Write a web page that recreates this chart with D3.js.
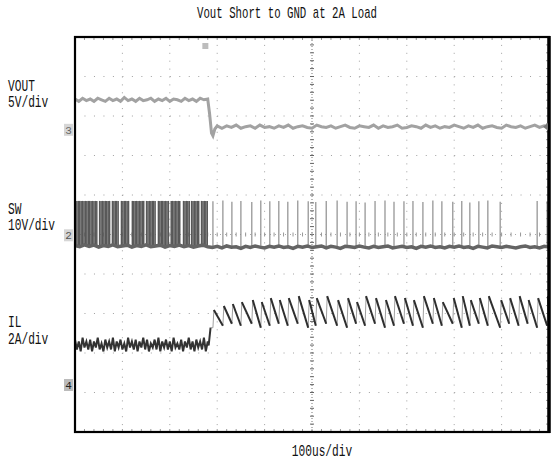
<!DOCTYPE html>
<html>
<head>
<meta charset="utf-8">
<script src="https://cdn.jsdelivr.net/npm/d3@7"></script>
<style>
  body { margin: 0; background: #fff; }
  text { font-family: "Liberation Mono", "DejaVu Sans Mono", monospace; fill: #111; }
</style>
</head>
<body>
<div id="scope"></div>
<script>
let chartTitle = "Vout Short to GND at 2A Load";
let timeLabel = "100us/div";
let channelNames = ["VOUT", "SW", "IL"];
let channelScales = ["5V/div", "10V/div", "2A/div"];

// VOUT (V): before the short, sampled every 8us from 0
let voutPre = [3.9,3.6,4.0,3.7,3.9,3.6,4.0,3.8,3.6,4.0,
               3.7,3.9,3.6,4.1,3.7,3.9,3.6,4.0,3.7,3.8,
               4.0,3.6,3.9,3.7,4.0,3.6,3.9,3.8,3.6,4.0,
               3.7,3.9,3.6,4.0,3.8,3.9];
let voutEdgeT = [284, 288, 291, 295, 300];
let voutEdgeV = [2.0, -0.4, -0.75, 0.1, 0.5];
// after the short, every 10us from 310
let voutPost = [0.2,0.5,0.3,0.6,0.2,0.4,0.5,0.2,0.6,0.3,
                0.4,0.2,0.5,0.3,0.6,0.2,0.4,0.5,0.3,0.2,
                0.6,0.4,0.3,0.5,0.2,0.4,0.6,0.3,0.2,0.5,
                0.4,0.3,0.6,0.2,0.5,0.3,0.4,0.6,0.2,0.3,
                0.5,0.4,0.2,0.6,0.3,0.5,0.2,0.4,0.3,0.6,
                0.4,0.2,0.5,0.3,0.6,0.2,0.4,0.5,0.3,0.2,
                0.6,0.4,0.3,0.5,0.2,0.4,0.6,0.3,0.5,0.4];

// SW (V): low level every 10us from 0 to 1000
let swBase = [-2.6,-2.9,-2.4,-2.8,-2.5,-3.0,-2.6,-2.8,-2.4,-2.9,
              -2.7,-2.5,-3.0,-2.6,-2.8,-2.4,-2.9,-2.7,-2.5,-3.0,
              -2.6,-2.8,-2.5,-2.9,-2.6,-3.0,-2.7,-2.5,-2.9,-3.1,
              -2.8,-3.2,-2.7,-3.0,-2.9,-3.3,-2.8,-3.1,-2.7,-3.0,
              -3.2,-2.8,-3.0,-2.7,-3.1,-2.9,-3.3,-2.8,-3.0,-2.7,
              -3.1,-2.9,-2.7,-3.2,-2.8,-3.0,-3.3,-2.8,-2.9,-3.1,
              -2.7,-3.0,-3.2,-2.8,-3.1,-2.9,-2.7,-3.2,-3.0,-2.8,
              -3.1,-2.9,-3.3,-2.8,-3.0,-2.7,-3.1,-2.9,-3.2,-2.8,
              -3.0,-2.7,-3.1,-2.9,-3.3,-2.8,-3.0,-3.2,-2.7,-2.9,
              -3.1,-2.8,-3.0,-3.2,-2.9,-2.7,-3.1,-2.9,-3.2,-2.8,
              -3.0];
let swHigh = 8.7;
// normal switching (aliased into a dense block), us
let swDenseT = [1,4,7,10,13,16,19,22,25,28,31,34,37,40,43,46,
                52,55,58,61,64,67,70,73,79,82,85,88,91,
                98,101,104,107,110,113,121,124,127,130,133,136,139,142,145,
                151,154,157,160,163,166,169,176,179,182,185,188,191,194,197,
                203,206,209,212,215,218,221,229,232,235,238,241,
                246,249,252,255,258,261,267,270,273,276,279];
// hiccup pulses after the short
let swPulseT = [291,312,331,350,373,392,411,430,449,470,492,508,530,553,574,593,612,
                633,654,673,694,713,734,755,774,797,816,833,852,871,897,975,996];
let swPulseTop = [8.6,8.8,8.5,8.7,8.4,8.8,8.6,8.7,8.5,8.8,
                  8.6,8.4,8.7,8.8,8.5,8.6,8.3,8.7,8.8,8.5,
                  8.6,8.7,8.4,8.8,8.6,8.5,8.7,8.3,8.6,8.8,
                  8.5,8.7,8.6];

// IL (A): before the short, every 4us from 0
let ilPre = [2.3,1.8,2.2,1.7,2.4,1.9,2.2,1.8,2.3,1.7,
             2.2,1.9,2.4,1.8,2.1,1.7,2.3,1.9,2.2,1.8,
             2.4,1.7,2.2,1.9,2.3,1.8,2.1,1.7,2.4,1.9,
             2.2,1.8,2.3,1.7,2.2,1.9,2.4,1.8,2.3,1.7,
             2.1,1.9,2.3,1.8,2.4,1.7,2.2,1.9,2.3,1.8,
             2.2,1.7,2.4,1.9,2.1,1.8,2.3,1.7,2.2,1.9,
             2.4,1.8,2.2,1.7,2.3,1.9,2.2,1.8,2.4,1.7,
             2.2];
let ilEdgeT = [282, 286];
let ilEdgeA = [2.0, 2.9];
let ilPeakT = [291,312,331,350,373,392,411,430,449,470,492,508,530,553,574,593,612,633,
               654,673,694,713,734,755,774,797,816,833,852,871,897,916,936,955,975,996];
let ilPeakA = [3.8,4.0,4.1,4.2,4.3,4.2,4.4,4.3,4.4,4.5,
               4.3,4.4,4.5,4.3,4.4,4.2,4.5,4.4,4.3,4.5,
               4.4,4.3,4.5,4.4,4.2,4.4,4.5,4.3,4.4,4.5,
               4.3,4.4,4.5,4.3,4.4,4.5];
let ilValleyA = [2.9,3.0,3.1,3.0,3.1,2.9,3.0,3.1,3.0,3.1,
                 2.9,3.0,3.1,3.0,2.9,3.1,3.0,3.1,2.9,3.0,
                 3.1,3.0,2.9,3.1,3.0,3.1,2.9,3.0,3.1,3.0,
                 2.9,3.1,3.0,3.1,2.9,3.0];

// ---- layout ----
let width = 555, height = 465;
let plot = {left: 75, right: 549, top: 37, bottom: 432};

let svg = d3.select("#scope")
    .append("svg")
        .attr("width", width)
        .attr("height", height)
        .style("background", "#fff");

// 100us/div, 10 div across; 10 div down
let x = d3.scaleLinear().domain([0, 1000]).range([plot.left, plot.right]);
let yDiv = d3.scaleLinear().domain([-5, 5]).range([plot.bottom, plot.top]);

// channel position (div) of the ground marker and units per div
let chVout = {offset: 2.65, perDiv: 5};
let chSw = {offset: -0.02, perDiv: 10};
let chIl = {offset: -3.81, perDiv: 2};
let chY = (ch, v) => yDiv(ch.offset + v / ch.perDiv);

//graticule
let grid = svg.append("g");
let xDivs = x.ticks(10), yDivs = yDiv.ticks(10);
let xMinor = d3.range(0, 1000.1, 20), yMinor = d3.range(-5, 5.01, 0.2);

grid.selectAll("line.col")
    .data(xDivs.filter(d => d > 0 && d < 1000 && d != 500))
    .enter().append("line")
        .attr("x1", d => x(d)).attr("x2", d => x(d))
        .attr("y1", plot.top).attr("y2", plot.bottom)
        .attr("stroke", "#a0a0a0")
        .attr("stroke-dasharray", "1," + (yDiv(0) - yDiv(0.2) - 1));
grid.selectAll("line.row")
    .data(yDivs.filter(d => d > -5 && d < 5 && d != 0))
    .enter().append("line")
        .attr("y1", d => yDiv(d)).attr("y2", d => yDiv(d))
        .attr("x1", plot.left).attr("x2", plot.right)
        .attr("stroke", "#a0a0a0")
        .attr("stroke-dasharray", "1," + (x(20) - x(0) - 1));

// center cross with minor ticks
grid.append("line")
    .attr("x1", x(500)).attr("x2", x(500))
    .attr("y1", plot.top).attr("y2", plot.bottom)
    .attr("stroke", "#777").attr("stroke-dasharray", "1,2");
grid.append("line")
    .attr("y1", yDiv(0)).attr("y2", yDiv(0))
    .attr("x1", plot.left).attr("x2", plot.right)
    .attr("stroke", "#aaa").attr("stroke-dasharray", "1,4");
grid.selectAll("line.vt")
    .data(yMinor)
    .enter().append("line")
        .attr("x1", x(500) - 2).attr("x2", x(500) + 2)
        .attr("y1", d => yDiv(d)).attr("y2", d => yDiv(d))
        .attr("stroke", "#666");
grid.selectAll("line.ht")
    .data(xMinor)
    .enter().append("line")
        .attr("y1", yDiv(0) - 2).attr("y2", yDiv(0) + 2)
        .attr("x1", d => x(d)).attr("x2", d => x(d))
        .attr("stroke", "#999");
// edge ticks
grid.selectAll("line.et")
    .data(xMinor)
    .enter().append("line")
        .attr("x1", d => x(d)).attr("x2", d => x(d))
        .attr("y1", plot.top).attr("y2", plot.top + 3)
        .attr("stroke", "#999");
grid.selectAll("line.eb")
    .data(xMinor)
    .enter().append("line")
        .attr("x1", d => x(d)).attr("x2", d => x(d))
        .attr("y1", plot.bottom - 3).attr("y2", plot.bottom)
        .attr("stroke", "#999");
grid.selectAll("line.er")
    .data(yMinor)
    .enter().append("line")
        .attr("x1", plot.right - 3).attr("x2", plot.right)
        .attr("y1", d => yDiv(d)).attr("y2", d => yDiv(d))
        .attr("stroke", "#999");

// ---- traces ----
//VOUT
let voutPts = voutPre.map((v, i) => [i * 8, v])
    .concat(voutEdgeT.map((t, i) => [t, voutEdgeV[i]]))
    .concat(voutPost.map((v, i) => [310 + i * 10, v]));
svg.append("path")
    .datum(voutPts)
    .attr("fill", "none")
    .attr("stroke", "#a2a2a2")
    .attr("stroke-width", 3)
    .attr("d", d3.line().x(d => x(d[0])).y(d => chY(chVout, d[1])));

//SW dense block, pulses, then low level
svg.selectAll("line.dense")
    .data(swDenseT)
    .enter().append("line")
        .attr("x1", d => x(d)).attr("x2", d => x(d))
        .attr("y1", chY(chSw, swHigh)).attr("y2", chY(chSw, -2.7))
        .attr("stroke", "#585858")
        .attr("stroke-width", 1.5);
svg.selectAll("line.pulse")
    .data(swPulseT)
    .enter().append("line")
        .attr("x1", d => x(d)).attr("x2", d => x(d))
        .attr("y1", (d, i) => chY(chSw, swPulseTop[i])).attr("y2", chY(chSw, -2.9))
        .attr("stroke", "#8e8e8e")
        .attr("stroke-width", 1.2);
svg.append("path")
    .datum(swBase.map((v, i) => [i * 10, v]))
    .attr("fill", "none")
    .attr("stroke", "#646464")
    .attr("stroke-width", 3.5)
    .attr("d", d3.line().x(d => x(d[0])).y(d => chY(chSw, d[1])));

//IL: noisy band, then hiccup sawtooth (dark falling slopes, faint fast rises)
let ilPts = ilPre.map((v, i) => [i * 4, v])
    .concat(ilEdgeT.map((t, i) => [t, ilEdgeA[i]]));
svg.append("path")
    .datum(ilPts)
    .attr("fill", "none")
    .attr("stroke", "#333")
    .attr("stroke-width", 2)
    .attr("d", d3.line().x(d => x(d[0])).y(d => chY(chIl, d[1])));

let ilLine = d3.line().x(d => x(d[0])).y(d => chY(chIl, d[1]));
let ilRise = ilPeakT.map((t, i) => [[t, ilValleyA[i]], [t + 2, ilPeakA[i]]]);
ilRise.unshift([[286, 2.9], [291, ilValleyA[0]]]);
let ilFall = ilPeakT.map((t, i) => [[t + 2, ilPeakA[i]],
    [i + 1 < ilPeakT.length ? ilPeakT[i + 1] : 1000, i + 1 < ilPeakT.length ? ilValleyA[i + 1] : 3.0]]);
svg.selectAll("path.rise")
    .data(ilRise)
    .enter().append("path")
        .attr("fill", "none")
        .attr("stroke", "#888")
        .attr("stroke-width", 0.8)
        .attr("d", ilLine);
svg.selectAll("path.fall")
    .data(ilFall)
    .enter().append("path")
        .attr("fill", "none")
        .attr("stroke", "#2e2e2e")
        .attr("stroke-width", 2)
        .attr("d", ilLine);

// ---- frame and markers ----
svg.append("rect")
    .attr("x", plot.left).attr("y", plot.top)
    .attr("width", plot.right - plot.left).attr("height", plot.bottom - plot.top)
    .attr("fill", "none").attr("stroke", "#000").attr("stroke-width", 2.2);
svg.append("line")
    .attr("x1", plot.right).attr("x2", plot.right)
    .attr("y1", plot.top - 1).attr("y2", plot.bottom + 1)
    .attr("stroke", "#000").attr("stroke-width", 3.5);

let markers = [
    {ch: chVout, label: "3", fill: "#d6d6d6", ink: "#666"},
    {ch: chSw, label: "2", fill: "#d6d6d6", ink: "#555"},
    {ch: chIl, label: "4", fill: "#bbb", ink: "#222"}
];
markers.forEach(function(m) {
    let yy = chY(m.ch, 0);
    svg.append("rect")
        .attr("x", 64).attr("y", yy - 6).attr("width", 9).attr("height", 12)
        .attr("fill", m.fill);
    svg.append("text")
        .attr("x", 68.5).attr("y", yy + 4)
        .attr("text-anchor", "middle")
        .style("font-size", "11px").style("fill", m.ink)
        .text(m.label);
});
// trigger position and level
svg.append("rect")
    .attr("x", x(275) - 3).attr("y", plot.top + 6).attr("width", 6).attr("height", 6)
    .attr("fill", "#bdbdbd");
svg.append("path")
    .attr("d", `M${plot.right - 1},${chY(chVout, 0.4) - 4} L${plot.right - 6},${chY(chVout, 0.4)} L${plot.right - 1},${chY(chVout, 0.4) + 4}Z`)
    .attr("fill", "#777");

// ---- text ----
function label(txt, tx, ty, anchor, sx) {
    svg.append("text")
        .attr("transform", `translate(${tx},${ty}) scale(${sx},1)`)
        .attr("text-anchor", anchor)
        .style("font-size", "16px")
        .text(txt);
}
label(chartTitle, 287, 18, "middle", 0.67);
label(channelNames[0], 8, 91, "start", 0.7);
label(channelScales[0], 8, 107, "start", 0.7);
label(channelNames[1], 8, 214, "start", 0.7);
label(channelScales[1], 8, 230, "start", 0.7);
label(channelNames[2], 8, 327, "start", 0.7);
label(channelScales[2], 8, 344, "start", 0.7);
label(timeLabel, 322, 456, "middle", 0.7);
</script>
</body>
</html>
